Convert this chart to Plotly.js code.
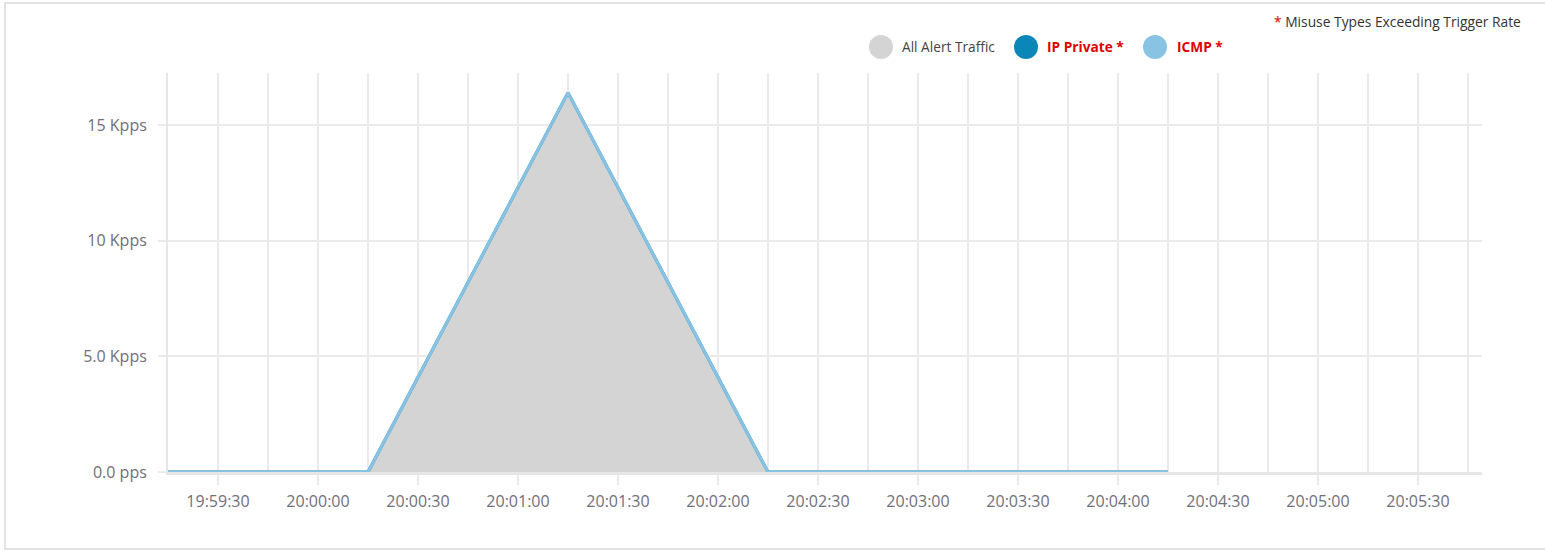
<!DOCTYPE html>
<html>
<head>
<meta charset="utf-8">
<script src="https://cdn.plot.ly/plotly-3.0.1.min.js"></script>
<style>
  html, body { margin: 0; padding: 0; background: #fff; }
  #card { position: absolute; left: 4px; top: 2px; width: 1600px; height: 544px;
          border-left: 2px solid #e3e3e3; border-top: 2px solid #e3e3e3; border-bottom: 2px solid #e3e3e3; }
  #chart { position: absolute; left: 0; top: 0; width: 1545px; height: 550px; }
</style>
</head>
<body>
<div id="card"></div>
<div id="chart"></div>
<script>
// ---- data ----
const times = ['2024-01-01 19:59:15', '2024-01-01 20:00:15', '2024-01-01 20:01:15',
               '2024-01-01 20:02:15', '2024-01-01 20:03:15', '2024-01-01 20:04:15'];
const allAlertTraffic = [0, 0, 16400, 0, 0, 0];
const ipPrivate = [0, 0, 16400, 0, 0, 0];
const icmp = [0, 0, 16400, 0, 0, 0];
const seriesNames = ['All Alert Traffic', 'IP Private *', 'ICMP *'];
const yTickVals = [0, 5000, 10000, 15000];
const yTickText = ['0.0 pps', '5.0 Kpps', '10 Kpps', '15 Kpps'];
const xRange = ['2024-01-01 19:59:15', '2024-01-01 20:05:49.2'];
const noteText = 'Misuse Types Exceeding Trigger Rate';

// ---- styling ----
const colors = ['#d4d4d4', '#0a86b8', '#88c3e3'];
const gridColor = '#ebebeb';
const textFamily = 'Open Sans, Noto Sans, sans-serif';
const tickFont = { family: textFamily, size: 16, color: '#6f6f7b' };

// plot area pixel geometry (for legend placement)
const L = 168, R = 1482, T = 73, B = 472;
const px2x = p => (p - L) / (R - L);
const py2y = p => (B - p) / (B - T);

const traces = [
  { x: times, y: allAlertTraffic, name: seriesNames[0], type: 'scatter', mode: 'lines',
    fill: 'tozeroy', fillcolor: colors[0], line: { width: 0, color: colors[0] } },
  { x: times, y: ipPrivate, name: seriesNames[1], type: 'scatter', mode: 'lines',
    line: { width: 3, color: colors[1] } },
  { x: times, y: icmp, name: seriesNames[2], type: 'scatter', mode: 'lines',
    line: { width: 3, color: colors[2] } }
];

// custom legend
const legendCircleX = [881, 1026, 1155];
const legendTextX = [900, 1045, 1175];
const legendY = 47;
const shapes = [];
const annotations = [];
seriesNames.forEach((n, i) => {
  shapes.push({ type: 'circle', xref: 'paper', yref: 'paper',
    xsizemode: 'pixel', ysizemode: 'pixel', xanchor: px2x(legendCircleX[i]), yanchor: py2y(legendY),
    x0: -12, x1: 12, y0: -12, y1: 12, fillcolor: colors[i], line: { width: 0 } });
  const isMisuse = i > 0;
  annotations.push({ xref: 'paper', yref: 'paper', x: px2x(legendTextX[i]), y: py2y(legendY),
    xanchor: 'left', yanchor: 'middle', showarrow: false,
    text: isMisuse ? '<b>' + n + '</b>' : n,
    font: { family: textFamily, size: 13.7, color: isMisuse ? '#e00000' : '#444' } });
});
annotations.push({ xref: 'paper', yref: 'paper', x: px2x(1523), y: py2y(22),
  xanchor: 'right', yanchor: 'middle', showarrow: false,
  text: '<span style="color:#e00000">*</span> ' + noteText,
  font: { family: textFamily, size: 13.8, color: '#333' } });

const layout = {
  width: 1545, height: 550,
  margin: { l: L, r: 1545 - R, t: T, b: 550 - B, pad: 0 },
  paper_bgcolor: 'rgba(0,0,0,0)', plot_bgcolor: 'rgba(0,0,0,0)',
  showlegend: false,
  xaxis: {
    type: 'date', range: xRange, tickformat: '%H:%M:%S',
    tick0: '2024-01-01 19:59:30', dtick: 30000,
    ticks: 'outside', ticklen: 10, tickwidth: 2, tickcolor: gridColor,
    showgrid: true, gridcolor: gridColor, gridwidth: 2,
    minor: { dtick: 15000, tick0: '2024-01-01 19:59:15', showgrid: true, gridcolor: gridColor, gridwidth: 2, ticks: '' },
    showline: true, linecolor: '#e6e6e6', linewidth: 3,
    zeroline: false, tickfont: tickFont, ticklabelstandoff: 3, fixedrange: true
  },
  yaxis: {
    range: [0, 17250], tickvals: yTickVals, ticktext: yTickText,
    ticks: 'outside', ticklen: 8, tickwidth: 2, tickcolor: gridColor,
    showgrid: true, gridcolor: gridColor, gridwidth: 2,
    showline: true, linecolor: '#e6e6e6', linewidth: 2,
    zeroline: false, tickfont: tickFont, ticklabelstandoff: 8, fixedrange: true
  },
  shapes: shapes,
  annotations: annotations,
  font: { family: textFamily }
};

Plotly.newPlot('chart', traces, layout, { displayModeBar: false, staticPlot: true });
</script>
</body>
</html>
